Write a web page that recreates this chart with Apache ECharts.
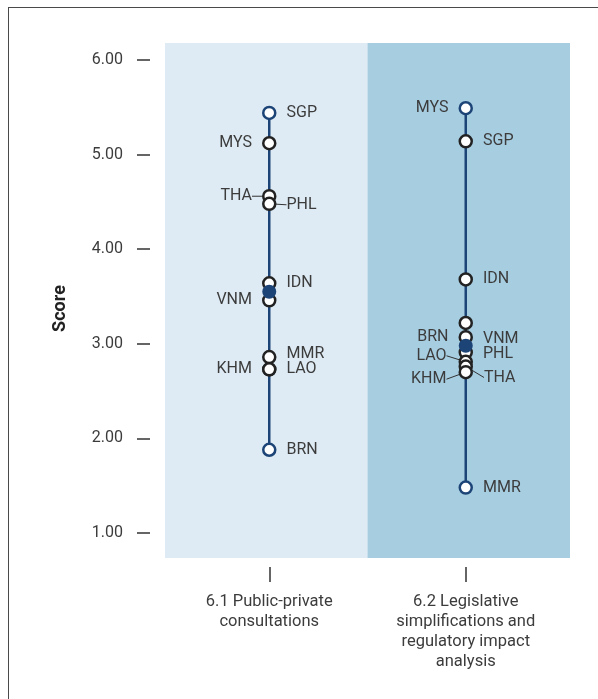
<!DOCTYPE html>
<html>
<head>
<meta charset="utf-8">
<script src="https://cdn.jsdelivr.net/npm/echarts@6/dist/echarts.min.js"></script>
<style>
  html, body { margin: 0; padding: 0; background: #fff; }
  #frame {
    position: absolute; left: 8px; top: 7px; width: 620px; height: 720px;
    border: 1.5px solid #4a4a4a;
  }
  #chart { position: absolute; left: 0; top: 0; width: 598px; height: 699px; }
</style>
</head>
<body>
<div id="frame"></div>
<div id="chart"></div>
<script>
// data
const categories = [
  "6.1 Public-private\nconsultations",
  "6.2 Legislative\nsimplifications and\nregulatory impact\nanalysis",
];
const countries61 = ["SGP", "MYS", "THA", "PHL", "IDN", "VNM", "MMR", "KHM", "LAO", "BRN"];
const scores61 = [5.44, 5.12, 4.56, 4.48, 3.64, 3.46, 2.86, 2.73, 2.73, 1.88];
const countries62 = ["MYS", "SGP", "IDN", "VNM", "BRN", "PHL", "LAO", "THA", "KHM", "MMR"];
const scores62 = [5.49, 5.14, 3.68, 3.22, 3.07, 2.91, 2.81, 2.76, 2.70, 1.48];
const averages = [3.55, 2.98];

// label placement: [side, dx, dy, leader line]
const place61 = {
  SGP: ["right"], MYS: ["left"], THA: ["left", 0, 0, true], PHL: ["right", 0, 1, true],
  IDN: ["right"], VNM: ["left"], MMR: ["right", 0, -3], KHM: ["left"], LAO: ["right"], BRN: ["right"],
};
const place62 = {
  MYS: ["left"], SGP: ["right"], IDN: ["right"], VNM: ["right", 0, 16], BRN: ["left"],
  PHL: ["right", 0, 2], LAO: ["left", -2, -6, true], THA: ["right", 1, 11, true],
  KHM: ["left", -2, 7, true], MMR: ["right"],
};

const navy = "#1d4477";
const textColor = "#3c3c3c";
const font = "Roboto";

function dots(ci, names, scores, place) {
  const hi = Math.max(...scores);
  const lo = Math.min(...scores);
  const items = names.map((n, i) => {
    const p = place[n] || ["right"];
    return {
      name: n,
      value: [ci, scores[i]],
      itemStyle: { borderColor: scores[i] === hi || scores[i] === lo ? navy : "#222" },
      label: { position: p[0] },
      labelLine: { show: !!p[3], lineStyle: { color: "#333", width: 1 } },
    };
  });
  return {
    type: "scatter",
    xAxisIndex: 0,
    yAxisIndex: 0,
    z: 3,
    symbol: "circle",
    symbolSize: 12,
    itemStyle: { color: "#fff", borderWidth: 2.5, opacity: 1 },
    label: {
      show: true,
      formatter: "{b}",
      distance: 10,
      color: textColor,
      fontSize: 16,
      fontFamily: font,
    },
    labelLayout: (params) => {
      const p = place[names[params.dataIndex]] || [];
      return { dx: p[1] || 0, dy: p[2] || 0 };
    },
    data: items,
  };
}

function stem(ci, scores) {
  return {
    type: "line",
    xAxisIndex: 0,
    yAxisIndex: 0,
    z: 2,
    symbol: "none",
    silent: true,
    lineStyle: { color: navy, width: 2.5 },
    data: [[ci, Math.max(...scores)], [ci, Math.min(...scores)]],
  };
}

const chart = echarts.init(document.getElementById("chart"));
chart.setOption({
  animation: false,
  grid: [
    { left: 171, right: 34, top: 60, bottom: 166 },
    { left: 165, right: 28, top: 43, bottom: 141 },
  ],
  xAxis: [
    {
      type: "category",
      gridIndex: 0,
      data: categories,
      offset: 34,
      axisLine: { show: false },
      axisTick: { show: true, alignWithLabel: true, length: 15, lineStyle: { color: "#333", width: 1.5 } },
      axisLabel: {
        margin: 25,
        color: textColor,
        fontSize: 16.5,
        lineHeight: 20,
        fontFamily: font,
        interval: 0,
      },
    },
    { type: "category", gridIndex: 1, data: categories, show: false },
  ],
  yAxis: [
    {
      type: "value",
      gridIndex: 0,
      min: 1,
      max: 6,
      interval: 1,
      offset: 21,
      axisLine: { show: false },
      axisTick: { show: true, length: 13, lineStyle: { color: "#333", width: 1.5 } },
      splitLine: { show: false },
      axisLabel: {
        margin: 27,
        color: textColor,
        fontSize: 16,
        fontFamily: font,
        formatter: (v) => v.toFixed(2),
      },
      name: "Score",
      nameLocation: "middle",
      nameGap: 81,
      nameTextStyle: {
        fontSize: 18,
        fontWeight: "bold",
        color: "#222",
        fontFamily: font,
        padding: [0, 24, 0, 0],
      },
    },
    { type: "value", gridIndex: 1, min: 0, max: 1, show: false },
  ],
  series: [
    {
      type: "bar",
      xAxisIndex: 1,
      yAxisIndex: 1,
      z: 0,
      silent: true,
      barCategoryGap: "0%",
      data: [
        { value: 1, itemStyle: { color: "#deebf4" } },
        { value: 1, itemStyle: { color: "#a7cde1" } },
      ],
    },
    stem(0, scores61),
    stem(1, scores62),
    dots(0, countries61, scores61, place61),
    dots(1, countries62, scores62, place62),
    {
      type: "scatter",
      xAxisIndex: 0,
      yAxisIndex: 0,
      z: 4,
      symbol: "circle",
      symbolSize: 14,
      itemStyle: { color: navy, opacity: 1 },
      data: averages.map((v, i) => [i, v]),
    },
  ],
});
</script>
</body>
</html>
